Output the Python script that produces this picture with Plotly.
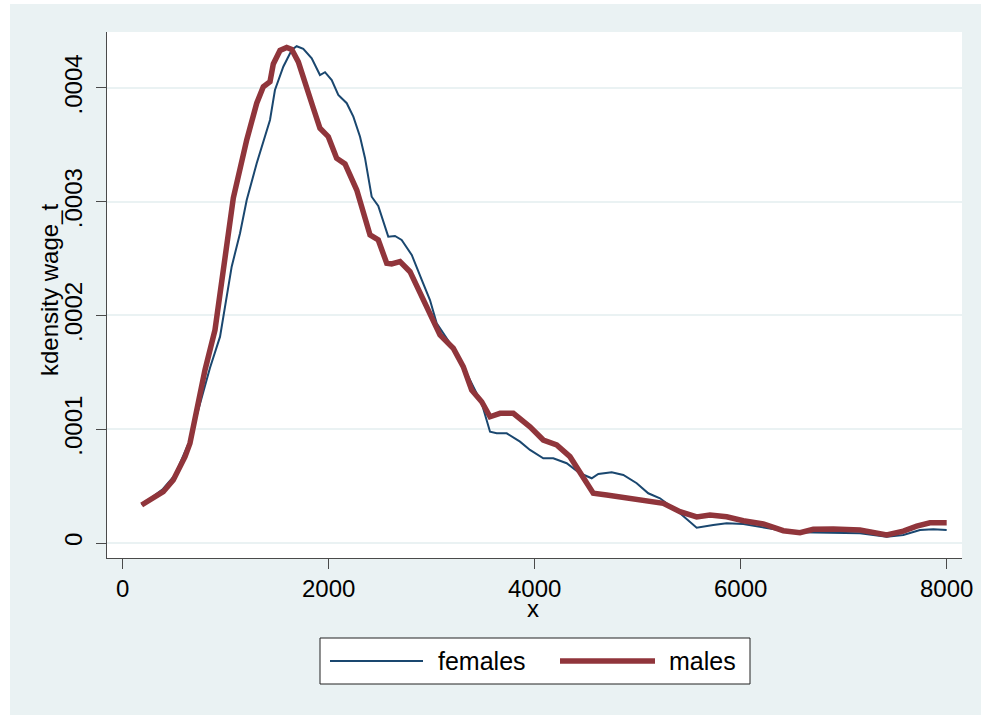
import plotly.graph_objects as go

# Kernel density estimates of wage_t by sex (x = wage, y = density)
female_x = [185, 392, 509, 596, 654, 713, 783, 848, 946, 1011, 1059, 1140, 1205, 1302,
            1382, 1431, 1479, 1560, 1642, 1690, 1754, 1836, 1916, 1965, 2030, 2094, 2176,
            2240, 2305, 2353, 2418, 2482, 2579, 2644, 2709, 2807, 2904, 2984, 3049, 3243,
            3372, 3486, 3567, 3632, 3729, 3858, 3955, 4084, 4181, 4311, 4440, 4554, 4618,
            4748, 4861, 4991, 5103, 5217, 5411, 5573, 5734, 5864, 6026, 6220, 6414, 6576,
            6899, 7158, 7418, 7579, 7741, 7870, 8000]
female_y = [3.34e-5, 4.75e-5, 5.98e-5, 7.74e-5, 9.05e-5, 1.099e-4, 1.316e-4, 1.538e-4,
            1.814e-4, 2.165e-4, 2.429e-4, 2.723e-4, 3.015e-4, 3.338e-4, 3.572e-4, 3.719e-4,
            3.982e-4, 4.187e-4, 4.334e-4, 4.367e-4, 4.343e-4, 4.261e-4, 4.114e-4, 4.139e-4,
            4.070e-4, 3.938e-4, 3.866e-4, 3.748e-4, 3.572e-4, 3.385e-4, 3.044e-4, 2.963e-4,
            2.693e-4, 2.699e-4, 2.664e-4, 2.532e-4, 2.312e-4, 2.136e-4, 1.931e-4, 1.668e-4,
            1.433e-4, 1.228e-4, 9.78e-5, 9.64e-5, 9.64e-5, 8.91e-5, 8.18e-5, 7.45e-5,
            7.45e-5, 7.01e-5, 6.13e-5, 5.69e-5, 6.07e-5, 6.22e-5, 5.98e-5, 5.25e-5, 4.37e-5,
            3.93e-5, 2.61e-5, 1.35e-5, 1.58e-5, 1.73e-5, 1.67e-5, 1.38e-5, 1.08e-5, 9.4e-6,
            9.1e-6, 8.5e-6, 5.5e-6, 7.0e-6, 1.14e-5, 1.20e-5, 1.14e-5]

male_x = [185, 395, 492, 606, 654, 703, 751, 800, 897, 960, 1075, 1205, 1302, 1366, 1431,
          1463, 1528, 1593, 1642, 1706, 1787, 1851, 1916, 1997, 2078, 2159, 2273, 2337,
          2402, 2482, 2564, 2612, 2693, 2790, 2887, 2984, 3081, 3210, 3307, 3389, 3486,
          3567, 3664, 3793, 3955, 4084, 4214, 4343, 4472, 4569, 4700, 4894, 5088, 5249,
          5411, 5573, 5702, 5864, 6026, 6220, 6414, 6576, 6705, 6899, 7158, 7288, 7418,
          7579, 7709, 7838, 8000]
male_y = [3.34e-5, 4.51e-5, 5.54e-5, 7.59e-5, 8.76e-5, 1.099e-4, 1.345e-4, 1.521e-4,
          1.873e-4, 2.312e-4, 3.033e-4, 3.543e-4, 3.866e-4, 4.011e-4, 4.055e-4, 4.211e-4,
          4.330e-4, 4.356e-4, 4.338e-4, 4.229e-4, 3.982e-4, 3.824e-4, 3.646e-4, 3.572e-4,
          3.382e-4, 3.332e-4, 3.103e-4, 2.910e-4, 2.708e-4, 2.664e-4, 2.459e-4, 2.453e-4,
          2.473e-4, 2.385e-4, 2.195e-4, 2.019e-4, 1.829e-4, 1.712e-4, 1.550e-4, 1.345e-4,
          1.242e-4, 1.110e-4, 1.140e-4, 1.140e-4, 1.022e-4, 9.05e-5, 8.62e-5, 7.59e-5,
          5.83e-5, 4.37e-5, 4.22e-5, 3.93e-5, 3.63e-5, 3.49e-5, 2.75e-5, 2.29e-5, 2.46e-5,
          2.31e-5, 1.96e-5, 1.67e-5, 1.08e-5, 9.1e-6, 1.20e-5, 1.23e-5, 1.14e-5, 9.1e-6,
          7.0e-6, 1.05e-5, 1.49e-5, 1.78e-5, 1.78e-5]

x_ticks = [0, 2000, 4000, 6000, 8000]
y_ticks = [0, 0.0001, 0.0002, 0.0003, 0.0004]
y_tick_text = ["0", ".0001", ".0002", ".0003", ".0004"]

FEMALE_COLOR = "#1A476F"
MALE_COLOR = "#90353B"
REGION_BG = "#EAF2F3"
FONT = "Liberation Sans, Arial, sans-serif"

fig = go.Figure()
fig.add_trace(go.Scatter(x=female_x, y=female_y, mode="lines", name="females",
                         line=dict(color=FEMALE_COLOR, width=2), showlegend=False))
fig.add_trace(go.Scatter(x=male_x, y=male_y, mode="lines", name="males",
                         line=dict(color=MALE_COLOR, width=5.5), showlegend=False))

W, H = 981, 715
L, R, T, B = 107, 19, 32, 157
pw, ph = W - L - R, H - T - B


def px(xp):
    return (xp - L) / pw


def py(yp):
    return (H - B - yp) / ph


shapes = [
    # white edge strips around the graph region
    dict(type="rect", xref="paper", yref="paper", x0=px(0), x1=px(10), y0=py(H), y1=py(0),
         fillcolor="white", line=dict(width=0), layer="below"),
    dict(type="rect", xref="paper", yref="paper", x0=px(0), x1=px(W), y0=py(4), y1=py(0),
         fillcolor="white", line=dict(width=0), layer="below"),
    # legend box
    dict(type="rect", xref="paper", yref="paper", x0=px(320), x1=px(750), y0=py(684), y1=py(638),
         fillcolor="white", line=dict(color="#222222", width=1)),
    dict(type="line", xref="paper", yref="paper", x0=px(330), x1=px(423), y0=py(661), y1=py(661),
         line=dict(color=FEMALE_COLOR, width=2)),
    dict(type="line", xref="paper", yref="paper", x0=px(560), x1=px(655), y0=py(661), y1=py(661),
         line=dict(color=MALE_COLOR, width=5.5)),
]

annotations = [
    dict(text="females", xref="paper", yref="paper", x=px(436), y=py(661), xanchor="left",
         yanchor="middle", showarrow=False, font=dict(family=FONT, size=25, color="black")),
    dict(text="males", xref="paper", yref="paper", x=px(667), y=py(661), xanchor="left",
         yanchor="middle", showarrow=False, font=dict(family=FONT, size=25, color="black")),
    # axis titles
    dict(text="x", xref="paper", yref="paper", x=px(533), y=py(609), xanchor="center",
         yanchor="middle", showarrow=False, font=dict(family=FONT, size=24, color="black")),
    dict(text="kdensity wage_t", xref="paper", yref="paper", x=px(49), y=py(290),
         xanchor="center", yanchor="middle", textangle=-90, showarrow=False,
         font=dict(family=FONT, size=24, color="black")),
]

fig.update_layout(
    width=W, height=H,
    margin=dict(l=L, r=R, t=T, b=B, autoexpand=False),
    paper_bgcolor=REGION_BG,
    plot_bgcolor="white",
    font=dict(family=FONT, size=24, color="black"),
    shapes=shapes,
    annotations=annotations,
    xaxis=dict(
        range=[-151.4, 8148.7], tickvals=x_ticks, ticktext=[str(v) for v in x_ticks],
        showgrid=False, zeroline=False, showline=True, linecolor="#4a4a4a", linewidth=1,
        ticks="outside", ticklen=10, tickcolor="#4a4a4a", tickwidth=1,
        ticklabelstandoff=-1, tickfont=dict(size=24),
    ),
    yaxis=dict(
        range=[-0.00001319, 0.0004492], tickvals=y_ticks, ticktext=y_tick_text,
        tickangle=-90, showgrid=True, gridcolor=REGION_BG, gridwidth=2, zeroline=False,
        showline=True, linecolor="#4a4a4a", linewidth=1,
        ticks="outside", ticklen=10, tickcolor="#4a4a4a", tickwidth=1,
        ticklabelstandoff=4, tickfont=dict(size=24),
    ),
)

fig.write_html("out.html")
